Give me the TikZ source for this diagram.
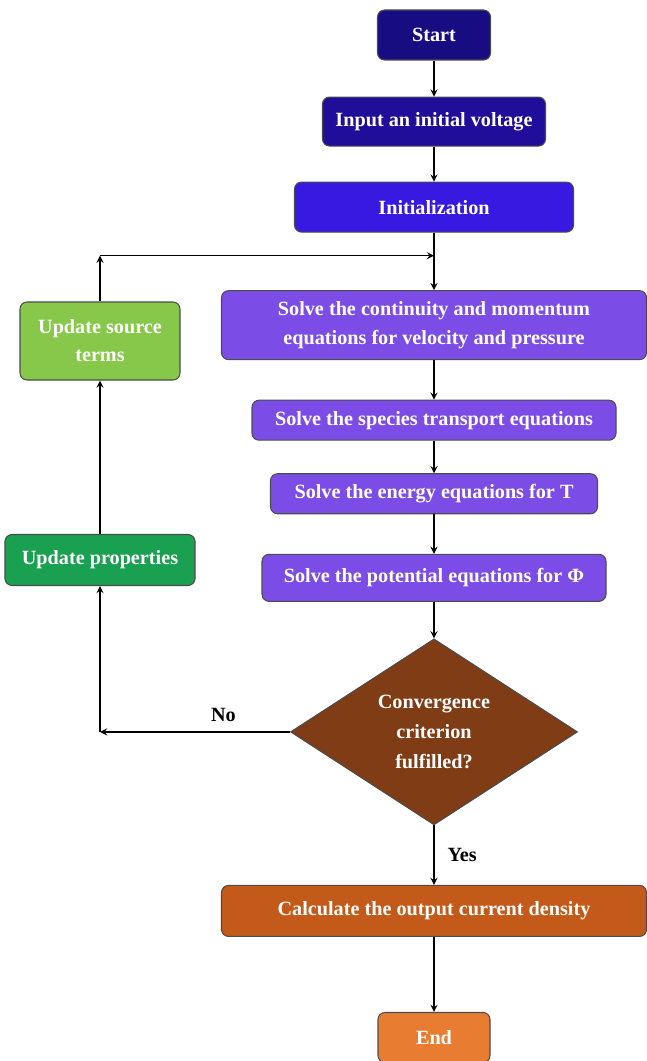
\documentclass[tikz,border=0pt]{standalone}
\usepackage{fontspec}
\setmainfont{Liberation Serif}
\usepackage{xcolor}
\usepackage{tikz}
\usetikzlibrary{shapes.geometric, arrows, positioning, calc}

\definecolor{navyA}{RGB}{24,12,130}
\definecolor{navyB}{RGB}{32,14,155}
\definecolor{blueC}{RGB}{55,25,225}
\definecolor{violetD}{RGB}{124,76,230}
\definecolor{greenL}{RGB}{135,200,75}
\definecolor{greenD}{RGB}{25,160,80}
\definecolor{brownE}{RGB}{128,60,20}
\definecolor{rustF}{RGB}{195,90,25}
\definecolor{orangeG}{RGB}{232,125,50}

\begin{document}
\begin{tikzpicture}[
  node distance=0.75cm,
  box/.style={rectangle, rounded corners=4pt, draw=black!70,
              line width=0.6pt, text=white, align=center, inner sep=2pt,
              font=\fontsize{11.5}{16}\selectfont\bfseries},
  decision/.style={diamond, draw=black!70, line width=0.6pt, fill=brownE,
              text=white, align=center, aspect=1.54, inner sep=0pt,
              minimum width=5.74cm, minimum height=3.72cm,
              font=\fontsize{11.5}{17}\selectfont\bfseries},
  lbl/.style={font=\fontsize{11.5}{14}\selectfont\bfseries},
  arrow/.style={->, >=stealth, thick}
]
\useasboundingbox (0,0) rectangle (12.94,-21.22);

% Main column
\node[box, fill=navyA, minimum width=2.26cm, minimum height=1cm] (start)
      at (8.68,-0.7) {Start};
\node[box, below=0.72cm of start, fill=navyB, minimum width=4.46cm,
      minimum height=0.98cm] (inp) {Input an initial voltage};
\node[box, below=0.7cm of inp, fill=blueC, minimum width=5.58cm,
      minimum height=1cm] (init) {Initialization};

% Solver steps
\node[box, below=1.15cm of init, fill=violetD, minimum width=8.5cm,
      minimum height=1.38cm] (cont)
      {Solve the continuity and momentum\\equations for velocity and pressure};
\node[box, below=0.79cm of cont, fill=violetD, minimum width=7.28cm,
      minimum height=0.8cm] (spec) {Solve the species transport equations};
\node[box, below=0.65cm of spec, fill=violetD, minimum width=6.54cm,
      minimum height=0.8cm] (energy) {Solve the energy equations for T};
\node[box, below=0.79cm of energy, fill=violetD, minimum width=6.88cm,
      minimum height=0.94cm] (pot) {Solve the potential equations for Φ};

% Check
\node[decision, below=0.73cm of pot] (conv)
      {Convergence\\criterion\\fulfilled?};

% Output
\node[box, below=1.19cm of conv, fill=rustF, minimum width=8.5cm,
      minimum height=1.02cm] (calc) {Calculate the output current density};
\node[box, below=1.5cm of calc, fill=orangeG, minimum width=2.24cm,
      minimum height=1cm] (end) {End};

% Update loop
\node[box, fill=greenL, minimum width=3.2cm, minimum height=1.56cm] (src)
      at (2.0,-6.82) {Update source\\terms};
\node[box, fill=greenD, minimum width=3.8cm, minimum height=1.02cm] (prop)
      at (2.0,-11.2) {Update properties};

\coordinate (ret) at ($(init.south)+(0,-0.46)$);
\coordinate (corner) at (src.north |- ret);
\coordinate (nocorner) at (conv.west -| prop.south);

% Arrows
\draw[arrow] (start) -- (inp);
\draw[arrow] (inp) -- (init);
\draw[arrow] (init) -- (cont);
\draw[arrow] (cont) -- (spec);
\draw[arrow] (spec) -- (energy);
\draw[arrow] (energy) -- (pot);
\draw[arrow] (pot) -- (conv);
\draw[arrow] (conv) -- node[lbl, right=4pt] {Yes} (calc);
\draw[arrow] (calc) -- (end);
\draw[arrow] (conv.west) -- node[lbl, above=2pt, pos=0.35] {No} (nocorner);
\draw[arrow] (nocorner) -- (prop.south);
\draw[arrow] (prop) -- (src);
\draw[arrow] (src.north) -- (corner);
\draw[arrow] (corner) -- (ret);
\end{tikzpicture}
\end{document}
